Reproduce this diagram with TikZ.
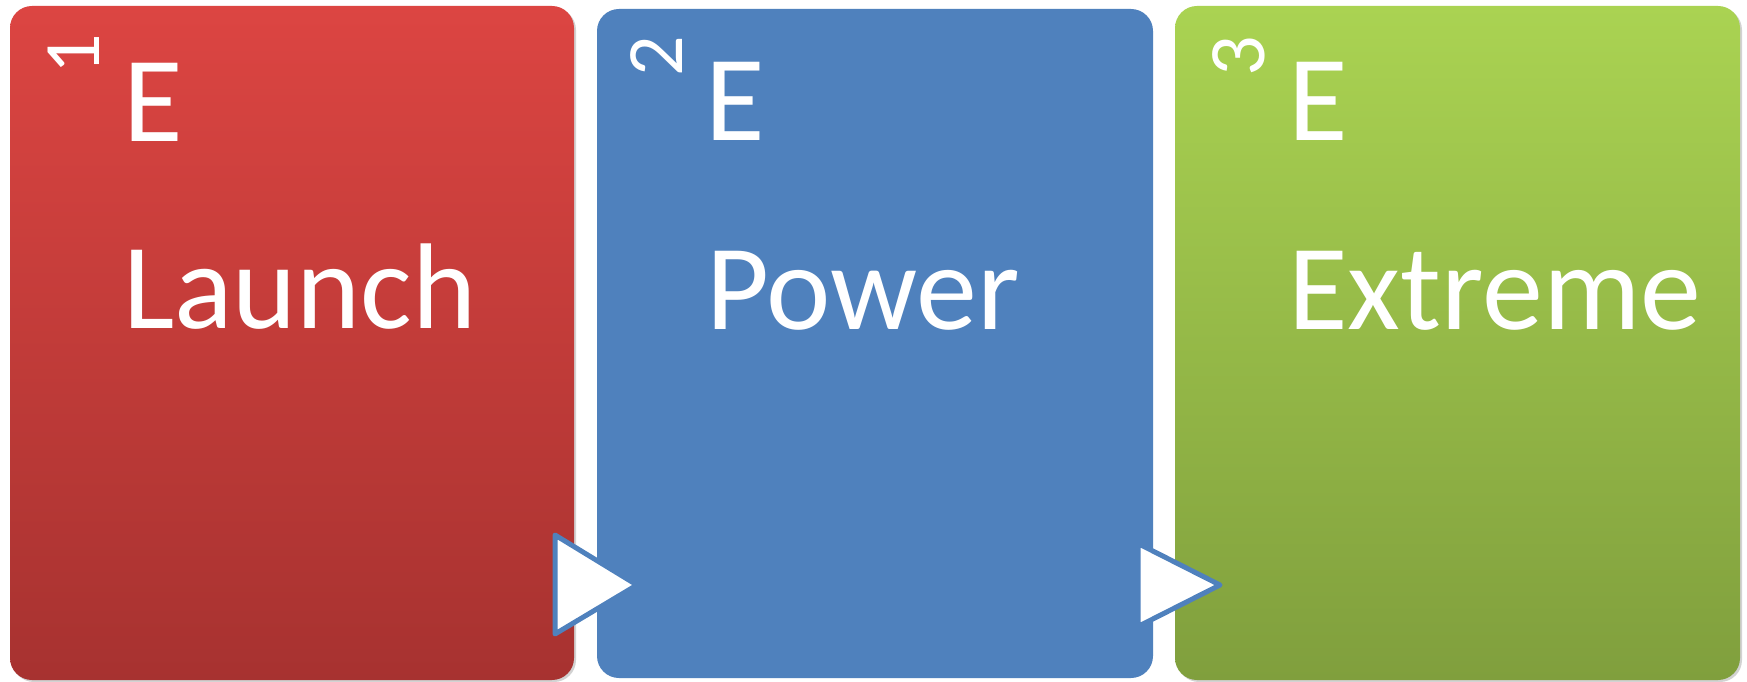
\documentclass[tikz,border=0pt]{standalone}
\usepackage{fontspec}
\setmainfont{Carlito}
\usetikzlibrary{shadows}
\definecolor{launchtop}{HTML}{DC4542}
\definecolor{launchbot}{HTML}{A73230}
\definecolor{powerblue}{HTML}{4F81BD}
\definecolor{extremetop}{HTML}{AAD352}
\definecolor{extremebot}{HTML}{809F3D}
\begin{document}
\begin{tikzpicture}[
        x=1pt, y=1pt,
        every node/.style={inner sep=0pt, outer sep=0pt, text=white},
        stage/.style={rectangle, rounded corners=22pt, anchor=south west}, % box of one step
        bevel/.style={stage, drop shadow={shadow xshift=2pt, shadow yshift=-2pt, opacity=0.35}},
        num/.style={font=\fontsize{80}{96}\selectfont, rotate=90}, % turned step number
        word/.style={font=\fontsize{122}{146}\selectfont, anchor=base west},
        arrowtip/.style={fill=white, draw=powerblue, line width=5pt, line join=round}
    ]
    \fill[white] (0,0) rectangle (1747,681);
    \useasboundingbox (0,0) rectangle (1747,681);
    % the three steps
    \node[bevel, top color=launchtop, bottom color=launchbot,
        minimum width=564pt, minimum height=674pt] (launch) at (10,1) {};
    \node[stage, fill=powerblue,
        minimum width=556pt, minimum height=669pt] (power) at (597,3) {};
    \node[bevel, top color=extremetop, bottom color=extremebot,
        minimum width=565pt, minimum height=674pt] (extreme) at (1175,1) {};
    % texts
    \node[num] (n1) at (74,627) {1};
    \node[word] (e1) at (123,539) {E};
    \node[word] (w1) at (123,353) {Launch};
    \node[num] (n2) at (657,625) {2};
    \node[word] (e2) at (705,540) {E};
    \node[word] (w2) at (706,352) {Power};
    \node[num] (n3) at (1239,625) {3};
    \node[word] (e3) at (1288,540) {E};
    \node[word] (w3) at (1288,352) {Extreme};
    % arrow heads between the steps
    \draw[arrowtip] (555,146) -- (637,96) -- (555,47) -- cycle;
    \draw[arrowtip] (1138,137.5) -- (1220,96) -- (1138,54.5) -- cycle;
\end{tikzpicture}
\end{document}
